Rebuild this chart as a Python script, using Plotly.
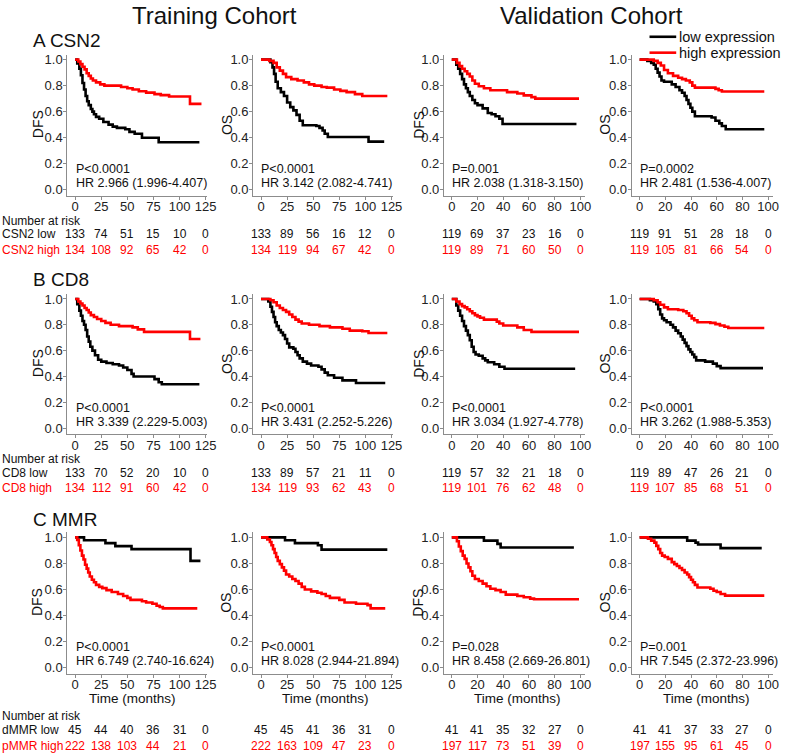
import plotly.graph_objects as go

# ---------------- data ----------------
row_titles = ["A CSN2", "B CD8", "C MMR"]
col_ylabels = ["DFS", "OS", "DFS", "OS"]
cohort_titles = ["Training Cohort", "Validation Cohort"]
legend_names = ["low expression", "high expression"]
train_ticks = [0, 25, 50, 75, 100, 125]
valid_ticks = [0, 20, 40, 60, 80, 100]
y_ticks = [0.0, 0.2, 0.4, 0.6, 0.8, 1.0]
time_label = "Time (months)"

# Row A: CSN2
csn2_tr_dfs_low_t = [0, 2, 4, 5.5, 7, 8.5, 10, 11.5, 13, 15, 16.5, 18, 20, 23, 27, 32, 36, 40, 48, 52, 57, 64, 80, 119]
csn2_tr_dfs_low_s = [1.0, 0.97, 0.93, 0.88, 0.82, 0.77, 0.72, 0.68, 0.65, 0.62, 0.60, 0.58, 0.56, 0.545, 0.52, 0.50, 0.485, 0.475, 0.465, 0.445, 0.43, 0.40, 0.365, 0.365]
csn2_tr_dfs_high_t = [0, 3, 5, 7, 9, 11, 13, 15, 17, 20, 24, 28, 44, 50, 55, 61, 68, 76, 82, 90, 110, 121]
csn2_tr_dfs_high_s = [1.0, 0.985, 0.965, 0.945, 0.925, 0.895, 0.875, 0.855, 0.84, 0.825, 0.81, 0.80, 0.79, 0.78, 0.77, 0.757, 0.746, 0.735, 0.727, 0.717, 0.66, 0.66]
csn2_tr_os_low_t = [0, 9, 11, 12.5, 14, 16, 19, 22, 25, 28, 31, 34, 37, 40, 53, 56, 59, 61, 64, 103, 118]
csn2_tr_os_low_s = [1.0, 0.98, 0.94, 0.89, 0.83, 0.78, 0.75, 0.72, 0.67, 0.635, 0.61, 0.575, 0.53, 0.495, 0.49, 0.475, 0.455, 0.43, 0.405, 0.37, 0.37]
csn2_tr_os_high_t = [0, 8, 12, 15, 18, 21, 24, 29, 35, 41, 46, 51, 58, 63, 70, 76, 82, 90, 97, 121]
csn2_tr_os_high_s = [1.0, 0.99, 0.975, 0.94, 0.915, 0.89, 0.865, 0.85, 0.84, 0.825, 0.81, 0.80, 0.79, 0.785, 0.77, 0.76, 0.75, 0.735, 0.72, 0.72]
csn2_va_dfs_low_t = [0, 3.5, 5, 6.5, 8, 9.5, 11, 12.5, 14, 16, 18, 20, 24, 28, 31, 34, 37, 39.5, 97]
csn2_va_dfs_low_s = [1.0, 0.96, 0.93, 0.89, 0.85, 0.81, 0.78, 0.75, 0.72, 0.69, 0.665, 0.65, 0.625, 0.59, 0.58, 0.565, 0.545, 0.505, 0.505]
csn2_va_dfs_high_t = [0, 4, 6, 8, 10, 12, 14, 16, 18, 21, 25, 30, 43, 51, 56, 62, 65, 99]
csn2_va_dfs_high_s = [1.0, 0.975, 0.95, 0.93, 0.91, 0.89, 0.87, 0.84, 0.815, 0.795, 0.78, 0.765, 0.75, 0.74, 0.725, 0.712, 0.70, 0.70]
csn2_va_os_low_t = [0, 6, 9, 11, 12.5, 14, 15.5, 17, 19, 25, 28, 31, 33, 35, 36.5, 38, 39.5, 41, 43, 56, 59, 62, 64, 67, 97]
csn2_va_os_low_s = [1.0, 0.99, 0.975, 0.96, 0.93, 0.90, 0.87, 0.84, 0.83, 0.81, 0.79, 0.765, 0.745, 0.72, 0.69, 0.66, 0.63, 0.60, 0.565, 0.555, 0.53, 0.51, 0.49, 0.465, 0.465]
csn2_va_os_high_t = [0, 11, 14, 16.5, 19, 22, 26, 30, 33, 36, 39, 41, 43, 59, 61.5, 64, 97]
csn2_va_os_high_s = [1.0, 0.99, 0.975, 0.955, 0.92, 0.895, 0.875, 0.86, 0.85, 0.84, 0.825, 0.80, 0.785, 0.775, 0.765, 0.755, 0.755]

# Row B: CD8
cd8_tr_dfs_low_t = [0, 2, 4, 5.5, 7, 8.5, 10, 11.5, 13, 14.5, 16.5, 19, 22, 25, 30, 36, 42, 46, 50, 54, 56, 76, 80, 83, 119]
cd8_tr_dfs_low_s = [1.0, 0.96, 0.91, 0.87, 0.83, 0.80, 0.76, 0.71, 0.67, 0.63, 0.60, 0.565, 0.53, 0.515, 0.505, 0.495, 0.485, 0.47, 0.45, 0.42, 0.40, 0.38, 0.355, 0.34, 0.34]
cd8_tr_dfs_high_t = [0, 3, 5, 7, 9, 11, 13, 15, 18, 21, 25, 29, 34, 42, 55, 60, 66, 110, 120]
cd8_tr_dfs_high_s = [1.0, 0.98, 0.965, 0.95, 0.93, 0.915, 0.895, 0.875, 0.86, 0.845, 0.83, 0.815, 0.80, 0.79, 0.78, 0.765, 0.745, 0.69, 0.69]
cd8_tr_os_low_t = [0, 7, 9, 10.5, 12, 13.5, 15, 17, 19, 21, 23, 25, 27, 31, 33, 35, 37, 40, 44, 48, 55, 58, 61, 64, 70, 78, 91, 119]
cd8_tr_os_low_s = [1.0, 0.98, 0.94, 0.90, 0.86, 0.82, 0.79, 0.76, 0.74, 0.72, 0.69, 0.655, 0.625, 0.615, 0.59, 0.565, 0.54, 0.515, 0.50, 0.485, 0.475, 0.455, 0.43, 0.41, 0.39, 0.37, 0.35, 0.35]
cd8_tr_os_high_t = [0, 9, 12, 15, 18, 21, 24, 27, 30, 33, 36, 39, 46, 56, 66, 78, 85, 97, 103, 121]
cd8_tr_os_high_s = [1.0, 0.99, 0.975, 0.95, 0.93, 0.915, 0.90, 0.88, 0.86, 0.84, 0.825, 0.81, 0.80, 0.79, 0.78, 0.77, 0.755, 0.75, 0.737, 0.737]
cd8_va_dfs_low_t = [0, 3.5, 5, 6.5, 8, 9.5, 11, 12.5, 14, 15.5, 17, 18.5, 21, 24, 26, 28, 33, 37, 41, 96]
cd8_va_dfs_low_s = [1.0, 0.95, 0.91, 0.87, 0.83, 0.79, 0.755, 0.72, 0.68, 0.63, 0.59, 0.57, 0.56, 0.54, 0.525, 0.51, 0.495, 0.475, 0.46, 0.46]
cd8_va_dfs_high_t = [0, 3.5, 6, 8, 10, 12, 14, 16, 18, 20, 22, 25, 35, 37, 40, 51, 56, 62, 99]
cd8_va_dfs_high_s = [1.0, 0.98, 0.96, 0.945, 0.935, 0.92, 0.905, 0.89, 0.875, 0.865, 0.855, 0.84, 0.825, 0.81, 0.795, 0.78, 0.76, 0.745, 0.745]
cd8_va_os_low_t = [0, 8, 11, 13, 14.5, 16, 17.5, 19, 21, 24, 26, 28, 30, 32, 33.5, 35, 36.5, 38, 39.5, 41, 42.5, 44, 51, 57, 60, 63, 96]
cd8_va_os_low_s = [1.0, 0.99, 0.98, 0.96, 0.92, 0.88, 0.85, 0.835, 0.82, 0.80, 0.78, 0.755, 0.735, 0.71, 0.685, 0.66, 0.635, 0.61, 0.59, 0.57, 0.55, 0.525, 0.515, 0.50, 0.48, 0.465, 0.465]
cd8_va_os_high_t = [0, 11, 14, 16, 19, 22, 30, 34, 36.5, 38.5, 40.5, 42.5, 45, 55, 59, 62.5, 66, 69, 97]
cd8_va_os_high_s = [1.0, 0.99, 0.975, 0.955, 0.935, 0.92, 0.915, 0.905, 0.89, 0.87, 0.85, 0.835, 0.82, 0.815, 0.805, 0.795, 0.785, 0.775, 0.775]

# Row C: MMR (low = dMMR, high = pMMR)
mmr_tr_dfs_low_t = [0, 8.5, 29, 38.5, 54, 110.5, 120]
mmr_tr_dfs_low_s = [1.0, 0.978, 0.956, 0.933, 0.91, 0.82, 0.82]
mmr_tr_dfs_high_t = [0, 2, 3.5, 5, 6.5, 8, 9.5, 11, 12.5, 14, 16, 18, 20, 23, 26, 30, 35, 41, 46, 50, 53, 64, 68, 74, 78, 81, 84, 117]
mmr_tr_dfs_high_s = [1.0, 0.98, 0.94, 0.90, 0.86, 0.83, 0.79, 0.76, 0.73, 0.70, 0.675, 0.655, 0.635, 0.62, 0.61, 0.595, 0.58, 0.565, 0.55, 0.535, 0.52, 0.51, 0.50, 0.49, 0.475, 0.465, 0.455, 0.455]
mmr_tr_os_low_t = [0, 23, 32.5, 54.5, 58, 121]
mmr_tr_os_low_s = [1.0, 0.978, 0.956, 0.94, 0.906, 0.906]
mmr_tr_os_high_t = [0, 6, 8.5, 10, 11.5, 13, 14.5, 16, 18, 20, 22, 24, 27, 30, 33, 36, 39, 42, 48, 54, 58, 62, 66, 75, 80, 91, 102, 105, 119]
mmr_tr_os_high_s = [1.0, 0.985, 0.965, 0.94, 0.91, 0.88, 0.85, 0.82, 0.795, 0.77, 0.745, 0.715, 0.70, 0.68, 0.665, 0.645, 0.62, 0.60, 0.585, 0.575, 0.565, 0.55, 0.535, 0.52, 0.50, 0.49, 0.48, 0.455, 0.455]
mmr_va_dfs_low_t = [0, 25, 35.5, 38, 95]
mmr_va_dfs_low_s = [1.0, 0.975, 0.95, 0.922, 0.922]
mmr_va_dfs_high_t = [0, 4, 5.5, 7, 8.5, 10, 11.5, 13, 14.5, 16, 18, 21, 24, 27, 30, 34, 38, 42, 51, 56, 61, 64, 99]
mmr_va_dfs_high_s = [1.0, 0.97, 0.93, 0.895, 0.86, 0.835, 0.80, 0.77, 0.74, 0.705, 0.68, 0.665, 0.645, 0.625, 0.605, 0.595, 0.58, 0.56, 0.55, 0.54, 0.53, 0.525, 0.525]
mmr_va_os_low_t = [0, 37, 43.5, 45.5, 63, 95]
mmr_va_os_low_s = [1.0, 0.975, 0.96, 0.945, 0.918, 0.918]
mmr_va_os_high_t = [0, 6.5, 9, 11.5, 13, 14.5, 16, 17.5, 19.5, 22, 25, 27, 29, 31, 33, 35, 37, 38.5, 40, 41.5, 43, 45, 55, 57.5, 60, 63, 66.5, 97]
mmr_va_os_high_s = [1.0, 0.99, 0.975, 0.96, 0.935, 0.91, 0.88, 0.86, 0.85, 0.835, 0.81, 0.795, 0.78, 0.765, 0.75, 0.73, 0.715, 0.695, 0.675, 0.655, 0.635, 0.615, 0.605, 0.59, 0.58, 0.565, 0.553, 0.553]

# P values and hazard ratios
p_texts = [
    ["P<0.0001", "P<0.0001", "P=0.001", "P=0.0002"],
    ["P<0.0001", "P<0.0001", "P<0.0001", "P<0.0001"],
    ["P<0.0001", "P<0.0001", "P=0.028", "P=0.001"],
]
hr_texts = [
    ["HR 2.966 (1.996-4.407)", "HR 3.142 (2.082-4.741)", "HR 2.038 (1.318-3.150)", "HR 2.481 (1.536-4.007)"],
    ["HR 3.339 (2.229-5.003)", "HR 3.431 (2.252-5.226)", "HR 3.034 (1.927-4.778)", "HR 3.262 (1.988-5.353)"],
    ["HR 6.749 (2.740-16.624)", "HR 8.028 (2.944-21.894)", "HR 8.458 (2.669-26.801)", "HR 7.545 (2.372-23.996)"],
]

# Numbers at risk
risk_labels = [["CSN2 low", "CSN2 high"], ["CD8 low", "CD8 high"], ["dMMR low", "pMMR high"]]
csn2_risk_low = [[133, 74, 51, 15, 10, 0], [133, 89, 56, 16, 12, 0], [119, 69, 37, 23, 16, 0], [119, 91, 51, 28, 18, 0]]
csn2_risk_high = [[134, 108, 92, 65, 42, 0], [134, 119, 94, 67, 42, 0], [119, 89, 71, 60, 50, 0], [119, 105, 81, 66, 54, 0]]
cd8_risk_low = [[133, 70, 52, 20, 10, 0], [133, 89, 57, 21, 11, 0], [119, 57, 32, 21, 18, 0], [119, 89, 47, 26, 21, 0]]
cd8_risk_high = [[134, 112, 91, 60, 42, 0], [134, 119, 93, 62, 43, 0], [119, 101, 76, 62, 48, 0], [119, 107, 85, 68, 51, 0]]
mmr_risk_low = [[45, 44, 40, 36, 31, 0], [45, 45, 41, 36, 31, 0], [41, 41, 35, 32, 27, 0], [41, 41, 37, 33, 27, 0]]
mmr_risk_high = [[222, 138, 103, 44, 21, 0], [222, 163, 109, 47, 23, 0], [197, 117, 73, 51, 39, 0], [197, 155, 95, 61, 45, 0]]

# ---------------- assembly ----------------
curves = [
    [(csn2_tr_dfs_low_t, csn2_tr_dfs_low_s, csn2_tr_dfs_high_t, csn2_tr_dfs_high_s),
     (csn2_tr_os_low_t, csn2_tr_os_low_s, csn2_tr_os_high_t, csn2_tr_os_high_s),
     (csn2_va_dfs_low_t, csn2_va_dfs_low_s, csn2_va_dfs_high_t, csn2_va_dfs_high_s),
     (csn2_va_os_low_t, csn2_va_os_low_s, csn2_va_os_high_t, csn2_va_os_high_s)],
    [(cd8_tr_dfs_low_t, cd8_tr_dfs_low_s, cd8_tr_dfs_high_t, cd8_tr_dfs_high_s),
     (cd8_tr_os_low_t, cd8_tr_os_low_s, cd8_tr_os_high_t, cd8_tr_os_high_s),
     (cd8_va_dfs_low_t, cd8_va_dfs_low_s, cd8_va_dfs_high_t, cd8_va_dfs_high_s),
     (cd8_va_os_low_t, cd8_va_os_low_s, cd8_va_os_high_t, cd8_va_os_high_s)],
    [(mmr_tr_dfs_low_t, mmr_tr_dfs_low_s, mmr_tr_dfs_high_t, mmr_tr_dfs_high_s),
     (mmr_tr_os_low_t, mmr_tr_os_low_s, mmr_tr_os_high_t, mmr_tr_os_high_s),
     (mmr_va_dfs_low_t, mmr_va_dfs_low_s, mmr_va_dfs_high_t, mmr_va_dfs_high_s),
     (mmr_va_os_low_t, mmr_va_os_low_s, mmr_va_os_high_t, mmr_va_os_high_s)],
]
risk_low = [csn2_risk_low, cd8_risk_low, mmr_risk_low]
risk_high = [csn2_risk_high, cd8_risk_high, mmr_risk_high]

W, H = 790, 755
FONT = "Arial, Liberation Sans, sans-serif"
RED = "#ff0000"
AX = "#8c8c8c"
TXT = "#111111"


def fx(p):
    return p / W


def fy(p):
    return 1 - p / H


col_px = [(68, 209.6), (256, 397.6), (449, 592), (639, 782)]
row_px = [(52, 194), (293, 434), (533, 675)]
row_title_px = [38, 278, 520]
risk_row_px = [233, 473, 732]
title_off = [30, 27, 26, 27]
time_label_x = [55, 61.5, 51, 52]
x_ranges = [[-7.6, 126.5], [-7.6, 126.5], [-6.15, 103.85], [-6.15, 103.85]]
y_range = [-0.046, 1.038]

fig = go.Figure()
annotations = []
shapes = []

for r in range(3):
    for c in range(4):
        k = r * 4 + c + 1
        xa = "x" if k == 1 else f"x{k}"
        ya = "y" if k == 1 else f"y{k}"
        lt, ls, ht, hs = curves[r][c]
        fig.add_trace(go.Scatter(x=lt, y=ls, mode="lines", line=dict(color="black", width=2.6, shape="hv"),
                                 xaxis=xa, yaxis=ya, name=legend_names[0], showlegend=False))
        fig.add_trace(go.Scatter(x=ht, y=hs, mode="lines", line=dict(color=RED, width=2.6, shape="hv"),
                                 xaxis=xa, yaxis=ya, name=legend_names[1], showlegend=False))
        ticks = train_ticks if c < 2 else valid_ticks
        common = dict(showline=True, linecolor=AX, linewidth=1, ticks="outside", ticklen=3, tickcolor=AX,
                      showgrid=False, zeroline=False, tickfont=dict(size=13, color="#222", family=FONT))
        fig.layout[f"xaxis{'' if k == 1 else k}"] = dict(
            domain=[fx(col_px[c][0]), fx(col_px[c][1])], range=x_ranges[c], anchor=ya,
            tickvals=ticks, ticklabelstandoff=-4, **common)
        fig.layout[f"yaxis{'' if k == 1 else k}"] = dict(
            domain=[fy(row_px[r][1]), fy(row_px[r][0])], range=y_range, anchor=xa,
            tickvals=y_ticks, tickformat=".1f", ticklabelstandoff=-2, **common)
        # y axis title
        annotations.append(dict(text=col_ylabels[c], xref="paper", yref=ya, x=fx(col_px[c][0] - title_off[c]),
                                y=0.5, textangle=-90, showarrow=False, xanchor="center", yanchor="middle",
                                font=dict(size=14, color=TXT, family=FONT)))
        # P and HR
        annotations.append(dict(text=p_texts[r][c], xref=xa, yref=ya, x=-1.5, y=0.16, showarrow=False,
                                xanchor="left", yanchor="middle", font=dict(size=12.5, color=TXT, family=FONT)))
        annotations.append(dict(text=hr_texts[r][c], xref=xa, yref=ya, x=-1.5, y=0.048, showarrow=False,
                                xanchor="left", yanchor="middle", font=dict(size=12.5, color=TXT, family=FONT)))
        # numbers at risk
        base = risk_row_px[r]
        for i, tv in enumerate(ticks):
            annotations.append(dict(text=str(risk_low[r][c][i]), xref=xa, yref="paper", x=tv, y=fy(base),
                                    showarrow=False, xanchor="center", yanchor="middle",
                                    font=dict(size=12, color=TXT, family=FONT)))
            annotations.append(dict(text=str(risk_high[r][c][i]), xref=xa, yref="paper", x=tv, y=fy(base + 15.5),
                                    showarrow=False, xanchor="center", yanchor="middle",
                                    font=dict(size=12, color=RED, family=FONT)))
        if r == 2:
            annotations.append(dict(text=time_label, xref=xa, yref="paper",
                                    x=time_label_x[c], y=fy(700), showarrow=False,
                                    xanchor="center", yanchor="middle",
                                    font=dict(size=13.5, color=TXT, family=FONT)))
    # row label & risk labels
    annotations.append(dict(text=row_titles[r], xref="paper", yref="paper", x=fx(31),
                            y=fy(row_title_px[r]), showarrow=False, xanchor="left", yanchor="middle",
                            font=dict(size=19, color=TXT, family=FONT)))
    base = risk_row_px[r]
    annotations.append(dict(text="Number at risk", xref="paper", yref="paper", x=fx(0), y=fy(base - 14),
                            showarrow=False, xanchor="left", yanchor="middle",
                            font=dict(size=12, color=TXT, family=FONT)))
    annotations.append(dict(text=risk_labels[r][0], xref="paper", yref="paper", x=fx(0), y=fy(base),
                            showarrow=False, xanchor="left", yanchor="middle",
                            font=dict(size=12, color=TXT, family=FONT)))
    annotations.append(dict(text=risk_labels[r][1], xref="paper", yref="paper", x=fx(0), y=fy(base + 15.5),
                            showarrow=False, xanchor="left", yanchor="middle",
                            font=dict(size=12, color=RED, family=FONT)))

annotations.append(dict(text=cohort_titles[0], xref="paper", yref="paper", x=fx(217), y=fy(13),
                        showarrow=False, xanchor="center", yanchor="middle",
                        font=dict(size=24, color=TXT, family=FONT)))
annotations.append(dict(text=cohort_titles[1], xref="paper", yref="paper", x=fx(598), y=fy(13),
                        showarrow=False, xanchor="center", yanchor="middle",
                        font=dict(size=24, color=TXT, family=FONT)))

# key at top right
for i, (name, col) in enumerate(zip(legend_names, ["black", RED])):
    yy = 34 + 16 * i
    shapes.append(dict(type="line", xref="paper", yref="paper", x0=fx(657), x1=fx(684), y0=fy(yy), y1=fy(yy),
                       line=dict(color=col, width=2.6)))
    annotations.append(dict(text=name, xref="paper", yref="paper", x=fx(685), y=fy(yy), showarrow=False,
                            xanchor="left", yanchor="middle", font=dict(size=14.5, color=TXT, family=FONT)))

fig.update_layout(
    width=W, height=H, margin=dict(l=0, r=0, t=0, b=0),
    paper_bgcolor="white", plot_bgcolor="white",
    annotations=annotations, shapes=shapes,
    showlegend=False,
    font=dict(family=FONT),
)

fig.write_html("out.html", config={"displayModeBar": False},
               post_script="document.body.style.margin='0';document.body.style.padding='0';"
                           "document.body.style.overflow='hidden';")
